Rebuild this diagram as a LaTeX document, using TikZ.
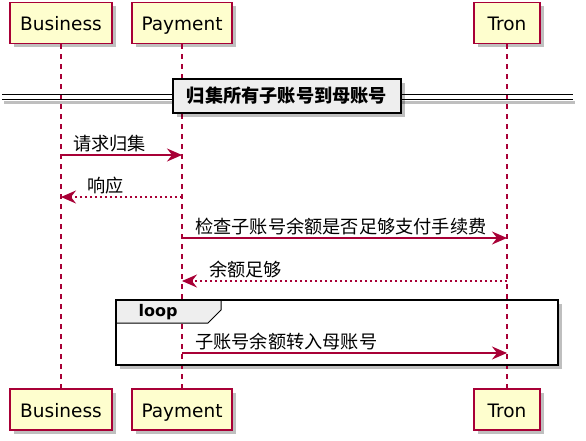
\documentclass[tikz,border=0pt]{standalone}
\usepackage{fontspec}
\setmainfont{DejaVu Sans}
\newfontfamily\cjk{Noto Sans CJK SC}
\usetikzlibrary{arrows.meta,shadows}
\definecolor{pline}{HTML}{A80036}
\definecolor{pfill}{HTML}{FEFECE}
\definecolor{gfill}{HTML}{EEEEEE}
\tikzset{
  shad/.style={drop shadow={shadow xshift=4pt, shadow yshift=-4pt, fill=black, opacity=0.25}},
  part/.style={draw=pline, fill=pfill, line width=1.4pt, minimum height=41pt, inner sep=0pt, text height=18pt, text depth=2pt, shad, font=\fontsize{18.5}{20}\selectfont},
  lifeline/.style={draw=pline, line width=1.3pt, dash pattern=on 5pt off 5pt},
  msg/.style={draw=pline, line width=1.3pt, -{Stealth[length=15pt,width=13pt,inset=5pt]}},
  reply/.style={msg, dash pattern=on 2.5pt off 2.5pt},
  msgtext/.style={anchor=west, inner sep=0pt, font=\cjk\fontsize{18.2}{20}\selectfont},
  divline/.style={draw=black, line width=1.2pt},
  divshadow/.style={draw=black!25, line width=3pt},
  divbox/.style={draw=black, fill=gfill, line width=2pt, minimum width=228pt, minimum height=34pt, inner sep=0pt, shad, font=\cjk\bfseries\fontsize{18.2}{20}\selectfont},
  framebg/.style={fill=white},
  frame/.style={draw=black, line width=2.2pt},
  tab/.style={draw=black, fill=gfill, line width=1pt},
}
\begin{document}
\begin{tikzpicture}[x=1pt,y=-1pt]
\useasboundingbox (0,0) rectangle (586,441);
% loop background with shadow (under lifelines)
\path[framebg, shad] (116,300) rectangle (558,365);
% participants
\node[part, minimum width=102pt] (bizT) at (61,23) {Business};
\node[part, minimum width=100pt] (payT) at (182,23) {Payment};
\node[part, minimum width=66pt] (tronT) at (507,23) {Tron};
\node[part, minimum width=102pt] (bizB) at (61,409.5) {Business};
\node[part, minimum width=100pt] (payB) at (182,409.5) {Payment};
\node[part, minimum width=66pt] (tronB) at (507,409.5) {Tron};
% lifelines
\draw[lifeline] (bizT.south) -- (bizB.north);
\draw[lifeline] (payT.south) -- (payB.north);
\draw[lifeline] (tronT.south) -- (tronB.north);
% divider
\coordinate (dL1) at (2,94.5);
\coordinate (dR1) at (573,94.5);
\coordinate (dL2) at (2,99.5);
\coordinate (dR2) at (573,99.5);
\coordinate (dsL) at (4,102.5);
\coordinate (dsR) at (575,102.5);
\draw[divshadow] (dsL) -- (dsR);
\draw[divline] (dL1) -- (dR1);
\draw[divline] (dL2) -- (dR2);
\node[divbox] (div) at (287,96) {归集所有子账号到母账号};
% messages
\coordinate (b1) at (61,155);
\coordinate (p1) at (182,155);
\draw[msg] (b1) -- (p1);
\node[msgtext] (t1) at (73,144) {请求归集};
\coordinate (p2) at (182,197);
\coordinate (b2) at (61,197);
\draw[reply] (p2) -- (b2);
\node[msgtext] (t2) at (87,186) {响应};
\coordinate (p3) at (182,238);
\coordinate (r3) at (507,238);
\draw[msg] (p3) -- (r3);
\node[msgtext] (t3) at (195,227) {检查子账号余额是否足够支付手续费};
\coordinate (r4) at (507,281);
\coordinate (p4) at (182,281);
\draw[reply] (r4) -- (p4);
\node[msgtext] (t4) at (209,270) {余额足够};
% loop
\draw[tab] (116,300) -- (221,300) -- (221,310) -- (208,323) -- (116,323) -- cycle;
\path[frame] (116,300) rectangle (558,365);
\node[font=\bfseries\fontsize{16}{18}\selectfont, inner sep=0pt] (lp) at (158,312) {loop};
\coordinate (p5) at (182,353);
\coordinate (r5) at (507,353);
\draw[msg] (p5) -- (r5);
\node[msgtext] (t5) at (195,342) {子账号余额转入母账号};
\end{tikzpicture}
\end{document}
